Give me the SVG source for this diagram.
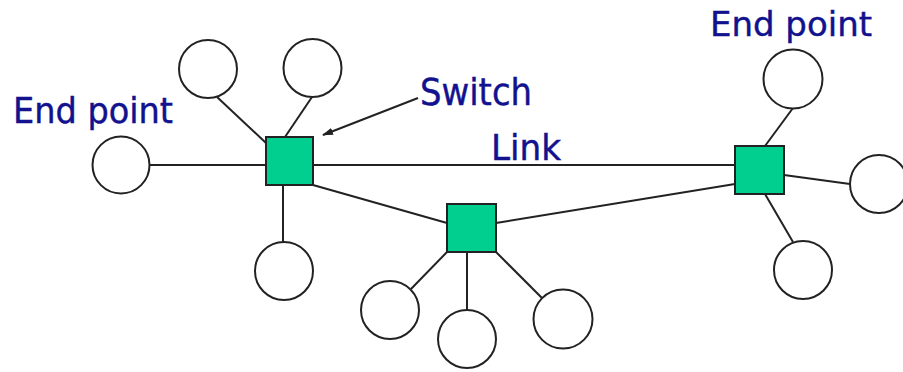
<svg xmlns="http://www.w3.org/2000/svg" width="903" height="372" viewBox="0 0 903 372">
<defs>
<style>
.ep{fill:#fff;stroke:#222;stroke-width:2}
.sw{fill:#00CF8F;stroke:#222;stroke-width:2}
.ln{stroke:#222;stroke-width:2;fill:none}
.lb{fill:#12128f;stroke:#12128f;stroke-width:0.4;font-family:'DejaVu Sans Condensed','DejaVu Sans',sans-serif}
</style>
<marker id="ah" markerWidth="11" markerHeight="7" refX="10" refY="3.5" orient="auto" markerUnits="userSpaceOnUse">
<path d="M0,0 L11,3.5 L0,7 z" fill="#222"/>
</marker>
</defs>
<rect width="903" height="372" fill="#fff"/>
<g id="connectors">
<line class="ln" x1="149" y1="165" x2="267" y2="165"/>
<line class="ln" x1="217" y1="97" x2="266" y2="143"/>
<line class="ln" x1="312" y1="97" x2="285" y2="137"/>
<line class="ln" x1="283" y1="185" x2="283" y2="242"/>
<line class="ln" x1="313" y1="165" x2="735" y2="165"/>
<line class="ln" x1="313" y1="185" x2="447" y2="223"/>
<line class="ln" x1="496" y1="223" x2="735" y2="184"/>
<line class="ln" x1="793" y1="108" x2="765" y2="146"/>
<line class="ln" x1="784" y1="175" x2="850" y2="184"/>
<line class="ln" x1="765" y1="194" x2="793" y2="242"/>
<line class="ln" x1="447" y1="252" x2="411" y2="289"/>
<line class="ln" x1="467" y1="252" x2="467" y2="310"/>
<line class="ln" x1="496" y1="252" x2="542" y2="298"/>
<line class="ln" x1="418" y1="98" x2="323" y2="135" stroke-width="1.5" marker-end="url(#ah)"/>
</g>
<g id="ep-left"><circle class="ep" cx="121" cy="165" r="28.5"/></g>
<g id="ep-tl1"><circle class="ep" cx="208" cy="69" r="29"/></g>
<g id="ep-tl2"><circle class="ep" cx="312.5" cy="68" r="29"/></g>
<g id="ep-bl"><circle class="ep" cx="284" cy="271" r="29"/></g>
<g id="ep-b1"><circle class="ep" cx="390" cy="310" r="29"/></g>
<g id="ep-b2"><circle class="ep" cx="467" cy="339" r="29"/></g>
<g id="ep-b3"><circle class="ep" cx="563" cy="319" r="29.5"/></g>
<g id="ep-tr"><circle class="ep" cx="793" cy="79" r="29.5"/></g>
<g id="ep-r"><circle class="ep" cx="879" cy="184" r="29"/></g>
<g id="ep-br"><circle class="ep" cx="803" cy="270" r="29"/></g>
<g id="sw-left"><rect class="sw" x="266" y="137" width="47" height="48"/></g>
<g id="sw-mid"><rect class="sw" x="447" y="204" width="49" height="48"/></g>
<g id="sw-right"><rect class="sw" x="735" y="146" width="49" height="48"/></g>
<g id="labels">
<text class="lb" x="13" y="123" font-size="35" textLength="160" lengthAdjust="spacingAndGlyphs">End point</text>
<text class="lb" x="710" y="36" font-size="34" textLength="162" lengthAdjust="spacingAndGlyphs">End point</text>
<text class="lb" x="420" y="105" font-size="38" textLength="112" lengthAdjust="spacingAndGlyphs">Switch</text>
<text class="lb" x="491" y="160" font-size="35" textLength="70" lengthAdjust="spacingAndGlyphs">Link</text>
</g>
</svg>
